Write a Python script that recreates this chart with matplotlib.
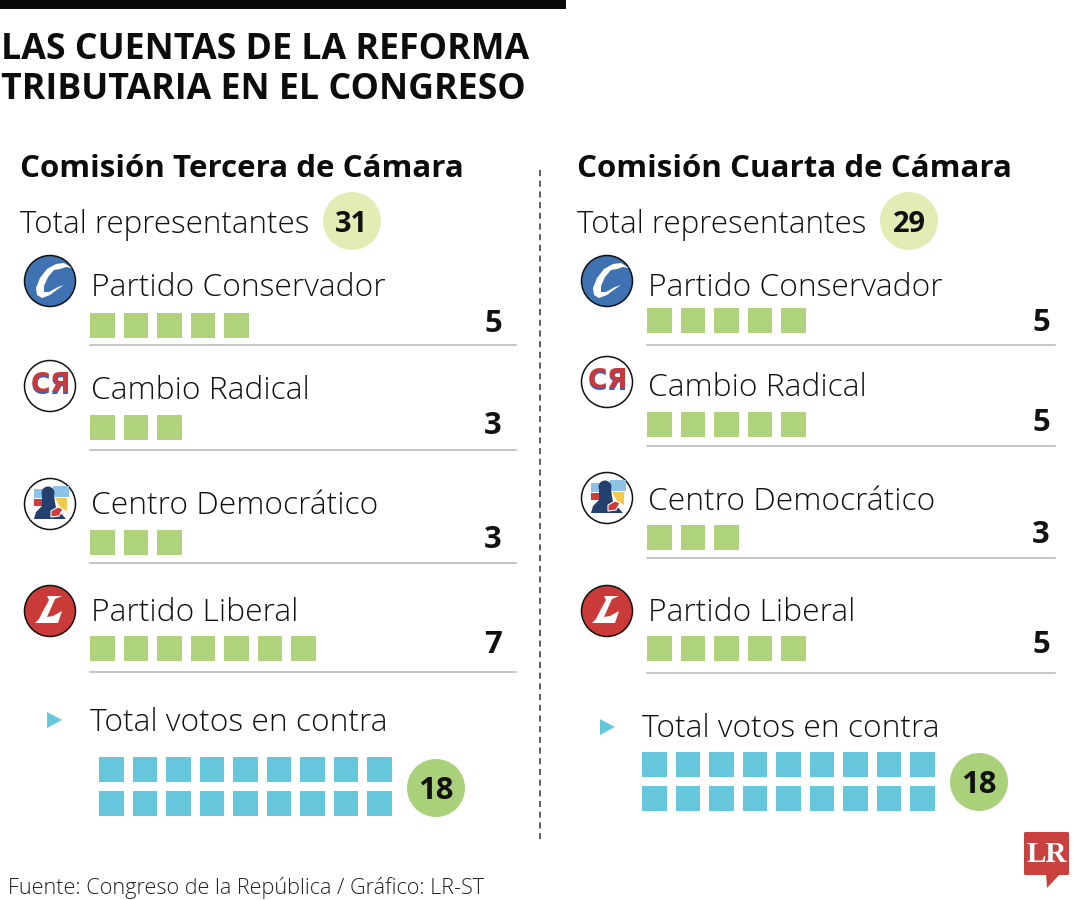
import matplotlib
matplotlib.use("Agg")
import matplotlib.pyplot as plt
from matplotlib.patches import Circle, Polygon, Rectangle, FancyBboxPatch

FONT = "Open Sans"
plt.rcParams["font.family"] = [FONT, "DejaVu Sans"]

GREEN = "#aed37c"
GREEN_DARK = "#a9d17a"
PALE = "#e3ecb5"
BLUE = "#66c7dc"
INK = "#111111"

title_lines = ["LAS CUENTAS DE LA REFORMA", "TRIBUTARIA EN EL CONGRESO"]
source = "Fuente: Congreso de la República / Gráfico: LR-ST"
parties = ["Partido Conservador", "Cambio Radical", "Centro Democrático", "Partido Liberal"]

left_name = "Comisión Tercera de Cámara"
left_total = 31
left_seats = [5, 3, 3, 7]
left_against = 18

right_name = "Comisión Cuarta de Cámara"
right_total = 29
right_seats = [5, 5, 3, 5]
right_against = 18

# pixel layout of each column, y grows downward
left_layout = dict(
    x0=0, logo_y=[281, 386, 504, 611], name_y=[285, 388, 503, 610],
    sq_y=[313, 415, 530, 636], rule_y=[345, 450, 563, 672], val_y=[321, 423, 537, 642],
    rule_end=516, val_x=502,
    arrow=(54, 720), against_x=90, against_y=720, grid=(99, 757), badge=(436, 788),
)
right_layout = dict(
    x0=557, logo_y=[281, 382, 498, 611], name_y=[285, 385, 499, 610],
    sq_y=[308, 412, 525, 636], rule_y=[345, 446, 558, 673], val_y=[320, 420, 532, 642],
    rule_end=498, val_x=493,
    arrow=(607, 727), against_x=642, against_y=726, grid=(642, 752), badge=(979, 782),
)


def px_text(ax, x, y, s, size, weight="normal", ha="left", va="center", color=INK, **kw):
    # Open Sans sits a little high with va=center, nudge it down
    return ax.text(x, y + 3, s, fontsize=size * 0.72, fontweight=weight, ha=ha, va=va,
                   color=color, **kw)


def squares(ax, x, y, n, color, pitch=33.5, side=24.5):
    for i in range(n):
        ax.add_patch(Rectangle((x + i * pitch, y), side, side, fc=color, ec="none"))


def shape(ax, cx, cy, pts, **kw):
    ax.add_patch(Polygon([(cx + px, cy + py) for px, py in pts], **kw))


def logo_conservador(ax, cx, cy):
    ax.add_patch(Circle((cx, cy), 25.5, fc="#3f72b2", ec="#111111", lw=1.1))
    shape(ax, cx, cy, [(14, -18), (6, -17), (-3, -12), (-10, -3), (-14, 7), (-13, 14), (-8, 17),
                       (0, 14), (8, 8), (14, 4), (8, 6), (-1, 11), (-6, 11), (-6, 5), (-2, -4),
                       (4, -11), (10, -12), (16, -14), (22, -13)], fc="white", ec="none")


def logo_cambio(ax, cx, cy):
    ax.add_patch(Circle((cx, cy), 25.5, fc="white", ec="#111111", lw=1.1))
    for dy, col in [(1.5, "#3f62a8"), (-0.5, "#c9393c")]:
        ax.text(cx - 9.5, cy + dy, "C", color=col, fontsize=19, fontweight="bold",
                family="DejaVu Sans", ha="center", va="center")
        ax.text(cx + 9.5, cy + dy, "Я", color=col, fontsize=19, fontweight="bold",
                family="DejaVu Sans", ha="center", va="center")


def logo_centro(ax, cx, cy):
    ax.add_patch(Circle((cx, cy), 25.5, fc="white", ec="#111111", lw=1.1))
    ax.add_patch(Rectangle((cx + 3, cy - 18), 16, 11, fc="#8cc3e6", ec="none"))
    ax.add_patch(Rectangle((cx - 16, cy - 15), 9, 9, fc="#8cc3e6", ec="none"))
    ax.add_patch(Rectangle((cx - 16, cy - 5), 8, 7, fc="#cf3b36", ec="none"))
    shape(ax, cx, cy, [(5, -6), (17, -6), (17, 7), (10, 3)], fc="#f2c94c", ec="none")
    ax.add_patch(Circle((cx - 2, cy - 11), 6.5, fc="#24406f", ec="none"))
    shape(ax, cx, cy, [(-16, 15), (-14, 8), (-8, 2), (-8, -8), (4, -8), (6, 4), (16, 15)],
          fc="#24406f", ec="none")
    shape(ax, cx, cy, [(1, 7), (8, 3), (13, 5), (9, 12), (1, 13)], fc="#cf3b36", ec="white", lw=0.8)


def logo_liberal(ax, cx, cy):
    ax.add_patch(Circle((cx, cy), 25.5, fc="#c93a39", ec="#111111", lw=1.1))
    shape(ax, cx, cy, [(-3, -15), (12, -15), (5, -12), (-3, 6), (3, 5), (12, 0), (8, 12), (-15, 12),
                       (-11, 8), (-8, 2), (-1, -11)], fc="white", ec="none")


logo_funcs = [logo_conservador, logo_cambio, logo_centro, logo_liberal]


def draw_column(ax, name, total, seats, against, lay):
    x0 = lay["x0"]
    px_text(ax, x0 + 20, 166, name, 31.3, weight="bold", color="#0c0c0c")
    px_text(ax, x0 + 20, 222, "Total representantes", 31.4, weight="light")
    ax.add_patch(Circle((x0 + 352, 221), 29, fc=PALE, ec="none"))
    px_text(ax, x0 + 352, 221, str(total), 29, weight="bold", ha="center")

    for i, party in enumerate(parties):
        logo_funcs[i](ax, x0 + 50, lay["logo_y"][i])
        px_text(ax, x0 + 91, lay["name_y"][i], party, 31.8, weight="light")
        squares(ax, x0 + 90, lay["sq_y"][i], seats[i], GREEN)
        ax.plot([x0 + 90, x0 + lay["rule_end"]], [lay["rule_y"][i]] * 2, color="#b5b5b5", lw=1.1)
        px_text(ax, x0 + lay["val_x"], lay["val_y"][i], str(seats[i]), 31, weight="bold", ha="right")

    ax_, ay_ = lay["arrow"]
    ax.add_patch(Polygon([(ax_ - 7, ay_ - 8), (ax_ + 8, ay_), (ax_ - 7, ay_ + 8)], fc=BLUE, ec="none"))
    px_text(ax, lay["against_x"], lay["against_y"], "Total votos en contra", 31.8, weight="light")

    gx, gy = lay["grid"]
    per_row = against // 2
    squares(ax, gx, gy, per_row, BLUE)
    squares(ax, gx, gy + 34, against - per_row, BLUE)
    bx, by = lay["badge"]
    ax.add_patch(Circle((bx, by), 29, fc=GREEN_DARK, ec="none"))
    px_text(ax, bx, by, str(against), 31, weight="bold", ha="center")


fig = plt.figure(figsize=(10.8, 9), dpi=100)
ax = fig.add_axes([0, 0, 1, 1])
ax.set_xlim(0, 1080)
ax.set_ylim(900, 0)
ax.axis("off")

ax.add_patch(Rectangle((0, 0), 566, 9, fc="#0a0a0a", ec="none"))
px_text(ax, 1, 47, title_lines[0], 35.8, weight="bold", color="#0c0c0c")
px_text(ax, 1, 87, title_lines[1], 35.8, weight="bold", color="#0c0c0c")

draw_column(ax, left_name, left_total, left_seats, left_against, left_layout)
draw_column(ax, right_name, right_total, right_seats, right_against, right_layout)

ax.plot([540, 540], [170, 842], color="#333333", lw=1.1, dashes=(4, 3))

px_text(ax, 8, 885, source, 21.7, weight="light", color="#222222")

# LR mark
ax.add_patch(FancyBboxPatch((1024, 832), 45, 43, boxstyle="round,pad=0,rounding_size=1.5",
                            fc="#c8413f", ec="none"))
ax.add_patch(Polygon([(1046, 874), (1060, 874), (1047, 888)], fc="#c8413f", ec="none"))
ax.text(1046.5, 854, "LR", color="white", fontsize=21, fontweight="bold",
        family="Liberation Serif", ha="center", va="center")

fig.savefig("out.png", dpi=100)
